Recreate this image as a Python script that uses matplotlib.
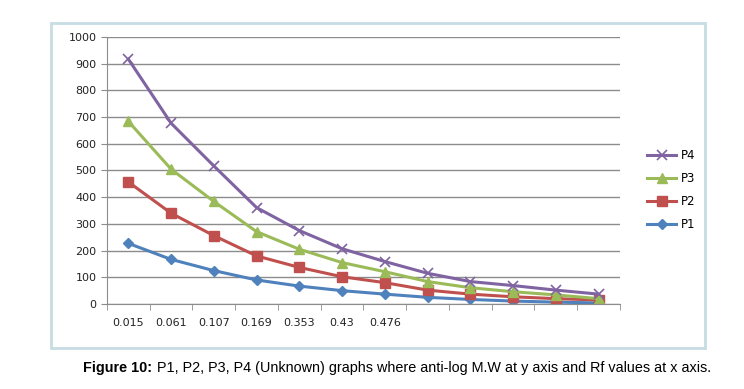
import matplotlib
matplotlib.use("Agg")
import matplotlib.pyplot as plt
from matplotlib.patches import FancyBboxPatch
import numpy as np

# ===== 数据 =====
rf_labels = ['0.015', '0.061', '0.107', '0.169', '0.353', '0.43', '0.476',
             '', '', '', '', '']
p1 = [227, 167, 125, 90, 67, 50, 37, 25, 17, 11, 7, 4]
p2 = [457, 340, 256, 180, 137, 102, 80, 52, 37, 27, 20, 15]
p3 = [684, 505, 384, 271, 205, 155, 121, 84, 61, 46, 34, 20]
p4 = [917, 677, 517, 361, 275, 207, 159, 115, 84, 69, 52, 37]

fig = plt.figure(figsize=(7.44, 3.89), dpi=100)

# 图表外框 (Excel 风格)
frame = FancyBboxPatch((0.068, 0.106), 0.879, 0.836, boxstyle="square,pad=0",
                       transform=fig.transFigure, facecolor='white',
                       edgecolor='#c8dce3', linewidth=2.0, zorder=0)
fig.patches.append(frame)

ax = fig.add_axes([0.1438, 0.2185, 0.6895, 0.6864])
ax.set_zorder(2)
ax.patch.set_alpha(0)

x = np.arange(len(rf_labels))
ax.plot(x, p1, color='#4f81bd', lw=2.2, marker='D', ms=5, label='P1')
ax.plot(x, p2, color='#c0504d', lw=2.2, marker='s', ms=7, label='P2')
ax.plot(x, p3, color='#9bbb59', lw=2.2, marker='^', ms=7.5, label='P3')
ax.plot(x, p4, color='#8064a2', lw=2.2, marker='x', ms=7, mew=1.2, label='P4')

ax.set_xlim(-0.5, len(rf_labels) - 0.5)
ax.set_ylim(0, 1000)
ax.set_yticks(range(0, 1001, 100))
ax.yaxis.grid(True, color='#8c8c8c', lw=1)
ax.set_axisbelow(True)

ax.set_xticks(x)
ax.set_xticklabels(rf_labels, fontsize=8, color='#222222')
ax.tick_params(axis='x', length=0, pad=10)
ax.set_xticks(np.arange(-0.5, len(rf_labels)), minor=True)
ax.tick_params(axis='x', which='minor', length=4, color='#8c8c8c', direction='out')
ax.tick_params(axis='y', length=4, color='#8c8c8c', labelsize=8, labelcolor='#222222')

for s in ['top', 'right']:
    ax.spines[s].set_visible(False)
for s in ['left', 'bottom']:
    ax.spines[s].set_color('#8c8c8c')

handles, labels = ax.get_legend_handles_labels()
fig.legend(handles[::-1], labels[::-1], loc='upper left',
           bbox_to_anchor=(0.855, 0.645), frameon=False, fontsize=8.5,
           handlelength=2.5, labelspacing=0.85, handletextpad=0.4)

# 图注
t1 = fig.text(0.112, 0.055, 'Figure 10:', fontsize=10.4, fontweight='bold',
              family='Liberation Sans', va='center')
fig.canvas.draw()
bb = t1.get_window_extent()
x2 = bb.x1 / fig.bbox.width + 0.006
fig.text(x2, 0.055, 'P1, P2, P3, P4 (Unknown) graphs where anti-log M.W at y axis and Rf values at x axis.',
         fontsize=10.4, family='Liberation Sans', va='center')

fig.savefig('out.png', dpi=100)
